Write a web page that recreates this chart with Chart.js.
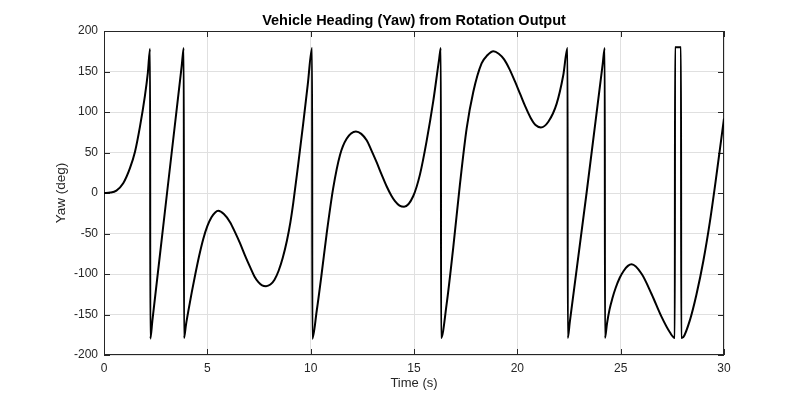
<!DOCTYPE html>
<html lang="en">
<head>
  <meta charset="UTF-8">
  <title>Vehicle Heading (Yaw) from Rotation Output</title>
  <script src="https://cdn.jsdelivr.net/npm/chart.js"></script>
  <style>
    body {
      margin: 0;
      padding: 0;
      background: #fff;
    }
    .chart-container {
      width: 800px;
      height: 400px;
    }
  </style>
</head>
<body>
  <div class="chart-container">
    <canvas id="yawChart"></canvas>
  </div>

  <script>
    // time (s) and yaw (deg); wraps at +/-180
    const timeS = [
      0, 0.3, 0.6, 0.93, 1.26, 1.5, 1.74, 1.98, 2.12, 2.23,
      2.24, 2.34, 3.05, 3.76, 3.86,
      3.87, 3.97, 4.10, 4.25, 4.42, 4.60, 4.80, 5.00, 5.20, 5.38, 5.53,
      5.80, 6.10, 6.35, 6.58, 6.82, 7.06, 7.28, 7.47, 7.65, 7.84,
      8.05, 8.25, 8.45, 8.65, 8.85, 9.02, 9.16, 9.40, 9.64, 9.86, 10.07,
      10.08, 10.29, 10.53, 10.77, 11.09, 11.42, 11.74, 12.19,
      12.45, 12.71, 12.95, 13.19, 13.43, 13.68, 13.90, 14.08, 14.30, 14.52,
      14.96, 15.29, 15.61, 15.93, 16.22, 16.30,
      16.31, 16.58, 16.90, 17.22, 17.55, 17.87, 18.27, 18.55, 18.84,
      19.10, 19.36, 19.62, 19.88, 20.14, 20.40, 20.64, 20.88, 21.14,
      21.50, 21.90, 22.22, 22.43,
      22.44, 22.54, 23.35, 24.13, 24.23,
      24.24, 24.34, 24.46, 24.60, 24.76, 24.95, 25.15, 25.35, 25.53,
      26.02, 26.50, 26.98, 27.38, 27.62,
      27.63, 27.92,
      27.93, 28.03, 28.35, 28.67, 29.00, 29.32, 29.64, 30.00
    ];
    const yawDeg = [
      0, 0.5, 3, 12, 31, 51, 82, 120, 148, 178,
      -180, -158, 0, 157, 179,
      -179, -162, -143, -122, -100, -78, -57, -41, -30, -24, -22,
      -26, -36, -49, -62, -77, -91, -103, -110, -114, -115,
      -113, -107, -96, -80, -59, -36, -12, 36, 86, 134, 179,
      -180, -146, -100, -51, 6, 47, 67, 76,
      73, 65, 52, 38, 23, 8, -3, -10, -15.5, -17,
      -4, 23, 64, 113, 166, 179,
      -179, -137, -67, 10, 80, 125, 160, 170, 175,
      172, 165, 153, 138, 122, 106, 93, 84, 81,
      88, 110, 145, 179,
      -179, -159, 0, 159, 179,
      -179, -161, -144, -130, -117, -105, -96, -90, -88,
      -100, -125, -153, -172, -179,
      180, 180,
      -179, -178, -157, -125, -84, -35, 23, 92
    ];
    const xTicks = [0, 5, 10, 15, 20, 25, 30];
    const yTicks = [-200, -150, -100, -50, 0, 50, 100, 150, 200];

    const fontFamily = '"Liberation Sans", Arial, Helvetica, sans-serif';
    const axisColor = '#262626';

    // box round the axes with inward tick marks (matlab style)
    const frameAndTicks = {
      id: 'frameAndTicks',
      beforeDatasetsDraw(chart) {
        const { ctx, chartArea: a, scales: { x, y } } = chart;
        const len = 6;
        ctx.save();
        ctx.strokeStyle = axisColor;
        ctx.lineWidth = 1;
        ctx.beginPath();
        xTicks.forEach(v => {
          const px = Math.round(x.getPixelForValue(v)) + 0.5;
          ctx.moveTo(px, a.bottom);
          ctx.lineTo(px, a.bottom - len);
          ctx.moveTo(px, a.top);
          ctx.lineTo(px, a.top + len);
        });
        yTicks.forEach(v => {
          const py = Math.round(y.getPixelForValue(v)) + 0.5;
          ctx.moveTo(a.left, py);
          ctx.lineTo(a.left + len, py);
          ctx.moveTo(a.right, py);
          ctx.lineTo(a.right - len, py);
        });
        ctx.stroke();
        ctx.strokeRect(a.left + 0.5, a.top + 0.5, a.width - 1, a.height - 1);
        ctx.restore();
      }
    };

    const points = timeS.map((t, i) => ({ x: t, y: yawDeg[i] }));

    const ctx = document.getElementById('yawChart').getContext('2d');
    const yawChart = new Chart(ctx, {
      type: 'line',
      data: {
        datasets: [
          {
            label: 'Yaw',
            data: points,
            borderColor: '#000000',
            borderWidth: 2,
            pointRadius: 0,
            fill: false,
            cubicInterpolationMode: 'monotone'
          }
        ]
      },
      options: {
        responsive: true,
        maintainAspectRatio: false,
        animation: false,
        layout: {
          padding: { left: 52, right: 24, top: 0, bottom: 0 }
        },
        plugins: {
          legend: { display: false },
          tooltip: { enabled: false },
          title: {
            display: true,
            text: 'Vehicle Heading (Yaw) from Rotation Output',
            color: '#000000',
            font: { family: fontFamily, size: 14.5, weight: 'bold' },
            padding: { top: 12.3, bottom: 1.3 }
          }
        },
        scales: {
          x: {
            type: 'linear',
            min: xTicks[0],
            max: xTicks[xTicks.length - 1],
            ticks: {
              stepSize: 5,
              color: axisColor,
              font: { family: fontFamily, size: 12 },
              padding: 6,
              maxRotation: 0
            },
            grid: { color: '#e0e0e0', drawTicks: false },
            border: { display: false },
            title: {
              display: true,
              text: 'Time (s)',
              color: axisColor,
              font: { family: fontFamily, size: 13 },
              padding: { top: 0, bottom: 9 }
            },
            afterFit: function(scale) {
              scale.height = 45;
            }
          },
          y: {
            type: 'linear',
            min: yTicks[0],
            max: yTicks[yTicks.length - 1],
            ticks: {
              stepSize: 50,
              color: axisColor,
              font: { family: fontFamily, size: 12 },
              padding: 6
            },
            grid: { color: '#e0e0e0', drawTicks: false },
            border: { display: false },
            title: {
              display: true,
              text: 'Yaw (deg)',
              color: axisColor,
              font: { family: fontFamily, size: 13.5 },
              padding: { top: 1.4, bottom: 0 }
            },
            afterFit: function(scale) {
              scale.width = 52;
            }
          },
          // empty box on the right so the title centres over the plot area
          spacer: {
            type: 'linear',
            position: 'right',
            ticks: { display: false },
            grid: { display: false },
            border: { display: false },
            afterFit: function(scale) {
              scale.width = 52;
            }
          }
        }
      },
      plugins: [frameAndTicks]
    });
  </script>
</body>
</html>
